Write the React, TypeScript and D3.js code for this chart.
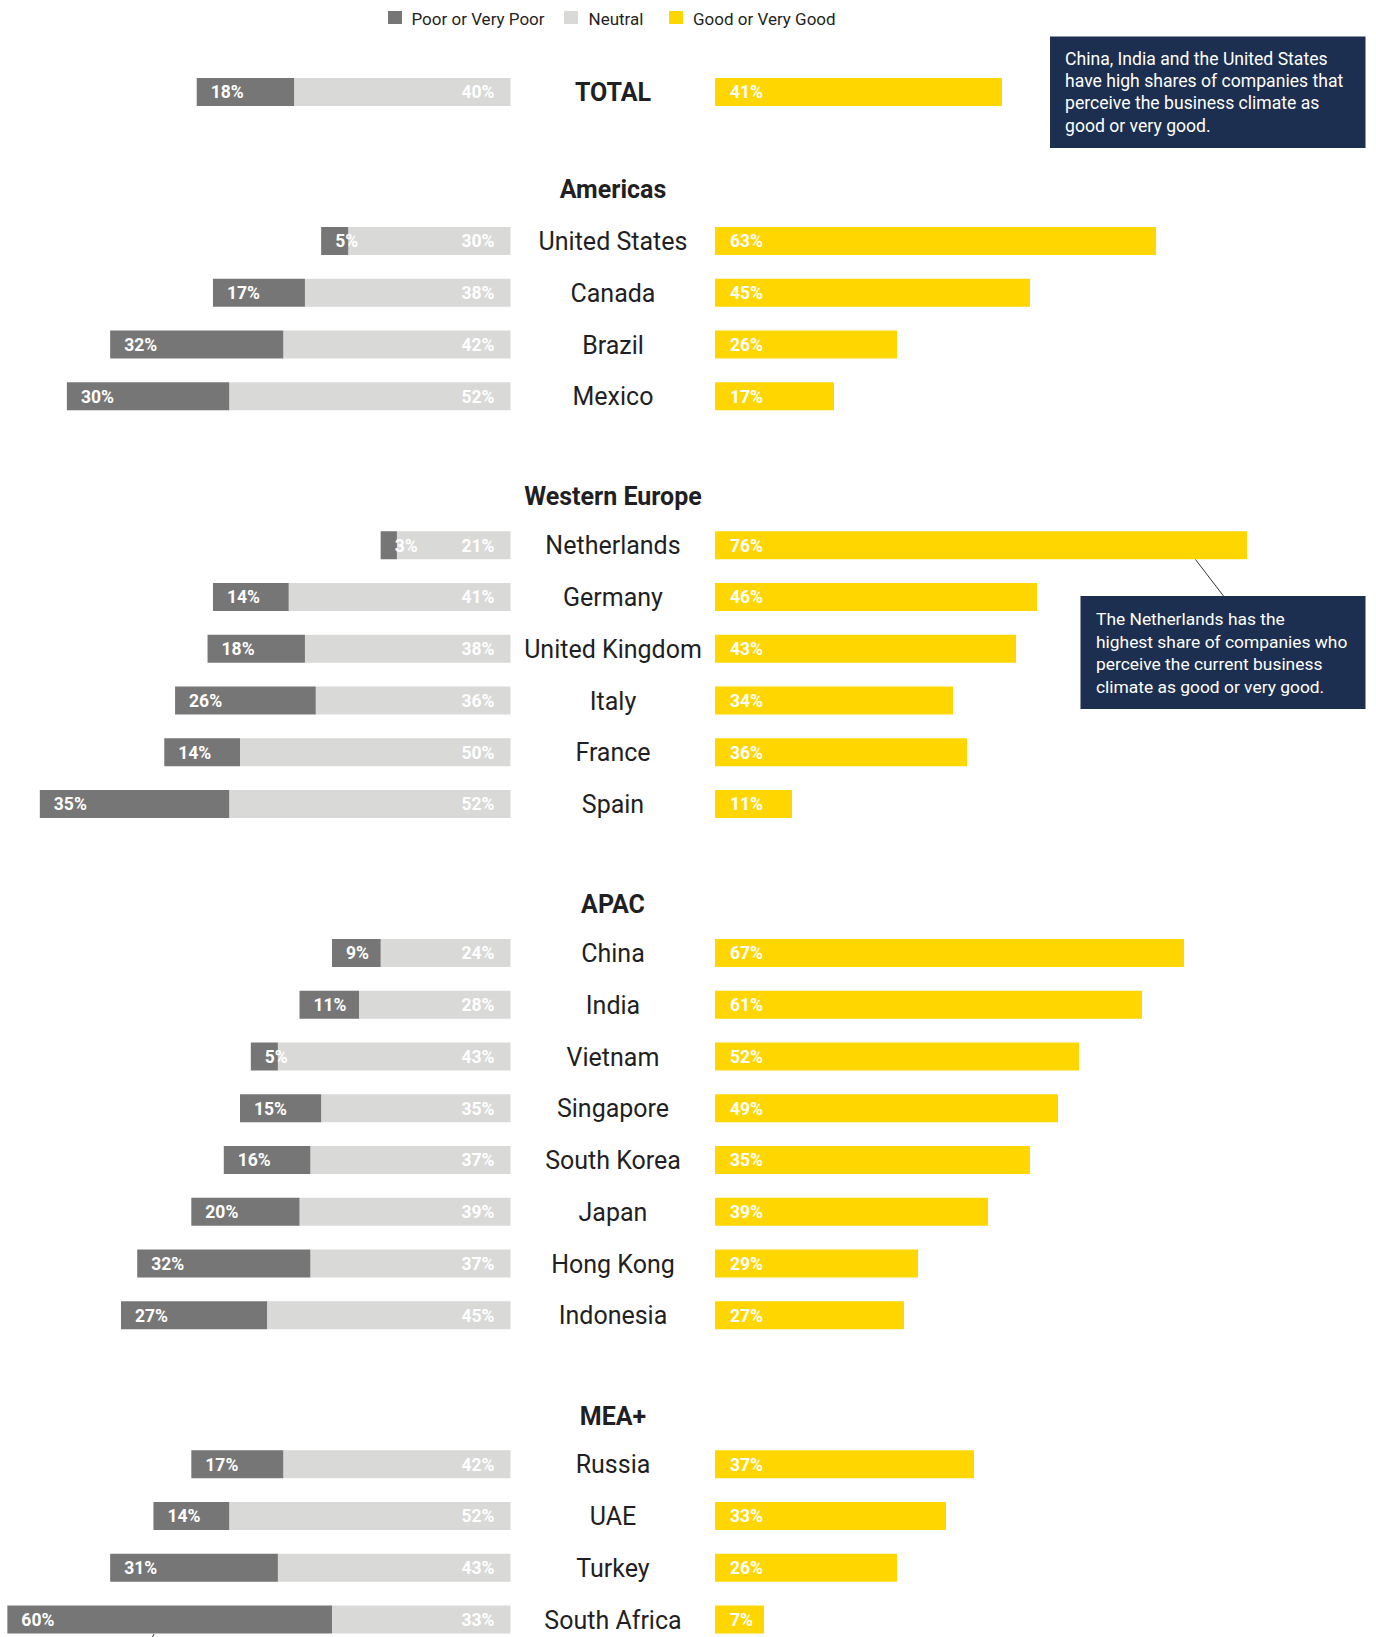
import React from "react";
import * as d3 from "d3";

// ---- Data ----
const groups = ["TOTAL", "Americas", "Western Europe", "APAC", "MEA+"];

const totalRow = { name: "TOTAL", poor: 18, neutral: 40, good: 41 };

const americasCountries = ["United States", "Canada", "Brazil", "Mexico"];
const americasPoor = [5, 17, 32, 30];
const americasNeutral = [30, 38, 42, 52];
const americasGood = [63, 45, 26, 17];

const europeCountries = ["Netherlands", "Germany", "United Kingdom", "Italy", "France", "Spain"];
const europePoor = [3, 14, 18, 26, 14, 35];
const europeNeutral = [21, 41, 38, 36, 50, 52];
const europeGood = [76, 46, 43, 34, 36, 11];

const apacCountries = ["China", "India", "Vietnam", "Singapore", "South Korea", "Japan", "Hong Kong", "Indonesia"];
const apacPoor = [9, 11, 5, 15, 16, 20, 32, 27];
const apacNeutral = [24, 28, 43, 35, 37, 39, 37, 45];
// bar lengths as drawn in the picture (South Korea's bar is drawn at ~45 while labelled 35%)
const apacGood = [67, 61, 52, 49, 45, 39, 29, 27];
const apacGoodLabels = [67, 61, 52, 49, 35, 39, 29, 27];

const meaCountries = ["Russia", "UAE", "Turkey", "South Africa"];
const meaPoor = [17, 14, 31, 60];
const meaNeutral = [42, 52, 43, 33];
const meaGood = [37, 33, 26, 7];

const legendLabels = ["Poor or Very Poor", "Neutral", "Good or Very Good"];

const note1 = [
  "China, India and the United States",
  "have high shares of companies that",
  "perceive the business climate as",
  "good or very good.",
];
const note2 = [
  "The Netherlands has the",
  "highest share of companies who",
  "perceive the current business",
  "climate as good or very good.",
];

// ---- Style ----
const W = 1376;
const H = 1637;
const C_POOR = "#767676";
const C_NEUTRAL = "#d9d9d8";
const C_GOOD = "#ffd600";
const C_NAVY = "#1c2f50";
const C_TEXT = "#1f1f24";
const FONT = "Roboto, 'Noto Sans', sans-serif";

type Row = { name: string; poor: number; neutral: number; good: number; goodLabel: number; y: number };

function build(names: string[], p: number[], n: number[], g: number[], gl?: number[]) {
  return names.map((name, i) => ({ name, poor: p[i], neutral: n[i], good: g[i], goodLabel: gl ? gl[i] : g[i] }));
}

export default function App() {
  const leftAnchor = 510.5;
  const rightAnchor = 715;
  const xL = d3.scaleLinear().domain([0, 100]).range([0, 541]);
  const xR = d3.scaleLinear().domain([0, 100]).range([0, 700]);
  const barH = 28;

  const grouped = [
    build(americasCountries, americasPoor, americasNeutral, americasGood),
    build(europeCountries, europePoor, europeNeutral, europeGood),
    build(apacCountries, apacPoor, apacNeutral, apacGood, apacGoodLabels),
    build(meaCountries, meaPoor, meaNeutral, meaGood),
  ];
  const headerLift = [52, 49, 49, 48];

  const rows: Row[] = [];
  const headers: { name: string; y: number }[] = [];
  let y = 92;
  rows.push({ ...totalRow, goodLabel: totalRow.good, y });
  grouped.forEach((g, gi) => {
    const firstY = y + 149;
    headers.push({ name: groups[gi + 1], y: firstY - headerLift[gi] });
    y = firstY;
    g.forEach((r, i) => {
      if (i > 0) y += 51.75;
      rows.push({ ...r, y });
    });
  });

  const legendX = [388, 564, 669];
  const legendColors = [C_POOR, C_NEUTRAL, C_GOOD];
  const legendTextX = [411.5, 588.5, 693];

  return (
    <svg
      width={W}
      height={H}
      style={{ position: "absolute", left: 0, top: 0, background: "#fff" }}
      fontFamily={FONT}
    >
      <rect x={0} y={0} width={W} height={H} fill="#fff" />
      {/* Legend */}
      {legendLabels.map((l, i) => (
        <g key={l}>
          <rect x={legendX[i]} y={11} width={14} height={13} fill={legendColors[i]} />
          <text x={legendTextX[i]} y={25} fontSize={17} fill={C_TEXT}>
            {l}
          </text>
        </g>
      ))}

      {/* Group headers */}
      {headers.map((h) => (
        <text key={h.name} x={613} y={h.y} dy="0.36em" textAnchor="middle" fontSize={25} fontWeight={700} fill={C_TEXT}>
          {h.name}
        </text>
      ))}

      {/* Rows */}
      {rows.map((r) => {
        const top = r.y - barH / 2;
        const neutralStart = leftAnchor - xL(r.neutral);
        const poorStart = leftAnchor - xL(r.neutral + r.poor);
        const isTotal = r.name === "TOTAL";
        return (
          <g key={r.name}>
            <rect x={neutralStart} y={top} width={xL(r.neutral)} height={barH} fill={C_NEUTRAL} />
            <rect x={poorStart} y={top} width={xL(r.poor)} height={barH} fill={C_POOR} />
            <rect x={rightAnchor} y={top} width={xR(r.good)} height={barH} fill={C_GOOD} />
            <text x={poorStart + 14} y={r.y} dy="0.36em" fontSize={17.5} fontWeight={700} fill="#fff">
              {r.poor}%
            </text>
            <text x={leftAnchor - 16} y={r.y} dy="0.36em" textAnchor="end" fontSize={17.5} fontWeight={700} fill="#fff">
              {r.neutral}%
            </text>
            <text x={rightAnchor + 15} y={r.y} dy="0.36em" fontSize={17.5} fontWeight={700} fill="#fff">
              {r.goodLabel}%
            </text>
            <text
              x={613}
              y={r.y}
              dy="0.36em"
              textAnchor="middle"
              fontSize={isTotal ? 25 : 25}
              fontWeight={isTotal ? 700 : 400}
              fill={C_TEXT}
            >
              {r.name}
            </text>
          </g>
        );
      })}

      {/* Annotation 1 */}
      <rect x={1050} y={36.5} width={315.5} height={111.5} fill={C_NAVY} />
      {note1.map((t, i) => (
        <text key={t} x={1065} y={58.5 + i * 22.3} dy="0.35em" fontSize={17.6} fill="#fff">
          {t}
        </text>
      ))}

      {/* Annotation 2 */}
      <line x1={1195.5} y1={559.5} x2={1223.5} y2={596} stroke="#333" strokeWidth={1} />
      <rect x={1080.5} y={596} width={285} height={113} fill={C_NAVY} />
      {note2.map((t, i) => (
        <text key={t} x={1096} y={619 + i * 22.7} dy="0.35em" fontSize={17.4} fill="#fff">
          {t}
        </text>
      ))}

      {/* partial connector at bottom */}
      <line x1={154} y1={1634} x2={151} y2={1640} stroke="#333" strokeWidth={1} />
    </svg>
  );
}
